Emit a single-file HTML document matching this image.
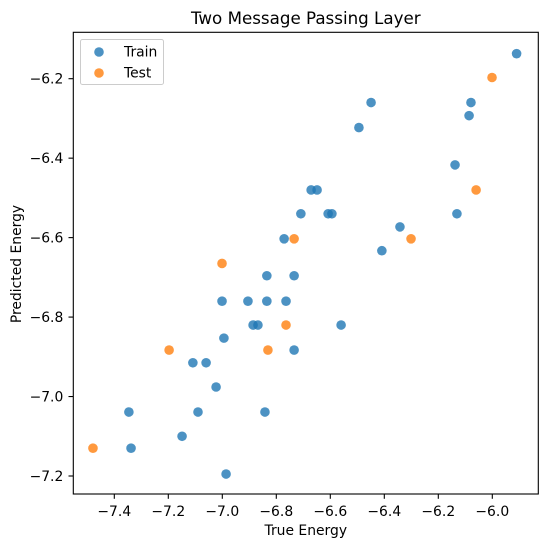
<!DOCTYPE html>
<html><head><meta charset="utf-8"><style>body{margin:0;background:#fff}svg{display:block;font-family:"DejaVu Sans","Liberation Sans",sans-serif}</style></head>
<body>
<svg id="chart" width="548" height="547"></svg>
<script>
const trainX=[-5.91,-6.449,-6.494,-6.079,-6.086,-6.138,-6.131,-6.342,-6.409,-6.671,-6.649,-6.709,-6.608,-6.594,-6.771,-6.835,-6.734,-7.001,-6.905,-6.835,-6.764,-6.886,-6.868,-6.56,-6.734,-6.994,-7.109,-7.06,-7.023,-7.346,-7.09,-6.842,-7.149,-7.338,-6.986];
const trainY=[-6.137,-6.26,-6.323,-6.26,-6.293,-6.417,-6.54,-6.573,-6.633,-6.48,-6.48,-6.54,-6.54,-6.54,-6.603,-6.696,-6.696,-6.76,-6.76,-6.76,-6.76,-6.82,-6.82,-6.82,-6.883,-6.853,-6.915,-6.915,-6.976,-7.039,-7.039,-7.039,-7.1,-7.13,-7.195];
const testX=[-7.479,-7.197,-7.001,-6.734,-6.764,-6.831,-6.301,-6.06,-6.001];
const testY=[-7.13,-6.883,-6.665,-6.603,-6.82,-6.883,-6.603,-6.48,-6.197];
const xTicks=[-7.4,-7.2,-7.0,-6.8,-6.6,-6.4,-6.2,-6.0];
const yTicks=[-6.2,-6.4,-6.6,-6.8,-7.0,-7.2];
const L=73.3,R=538.3,T=32.3,B=494;
const xs=v=>114.3+(v+7.4)*270;
const ys=v=>78.7+(-6.2-v)*397.3;
const svg=document.getElementById('chart');
const NS='http://www.w3.org/2000/svg';
function mk(tag,attrs,parent){const e=document.createElementNS(NS,tag);for(const k in attrs)e.setAttribute(k,attrs[k]);(parent||svg).appendChild(e);return e;}
let t=mk('text',{x:(L+R)/2,y:24,'text-anchor':'middle','font-size':16.7});t.textContent='Two Message Passing Layer';


xTicks.forEach(v=>{const x=xs(v);mk('line',{x1:x,x2:x,y1:B,y2:B+4.8,stroke:'#000','stroke-width':1.1});const tx=mk('text',{x:x,y:B+22,'text-anchor':'middle','font-size':13.9});tx.textContent=v.toFixed(1).replace('-','\u2212');

});
yTicks.forEach(v=>{const y=ys(v);mk('line',{x1:L-4.8,x2:L,y1:y,y2:y,stroke:'#000','stroke-width':1.1});const ty=mk('text',{x:L-10,y:y+5,'text-anchor':'end','font-size':13.9});ty.textContent=v.toFixed(1).replace('-','\u2212');

});
let xl=mk('text',{x:(L+R)/2,y:535,'text-anchor':'middle','font-size':13.9});xl.textContent='True Energy';


let yl=mk('text',{x:21,y:264,'text-anchor':'middle','font-size':13.9,transform:'rotate(-90 21 264)'});yl.textContent='Predicted Energy';


trainX.forEach((v,i)=>{const c=mk('circle',{cx:xs(v),cy:ys(trainY[i]),r:4.8,fill:'#1f77b4','fill-opacity':0.8});

});
testX.forEach((v,i)=>{const c=mk('circle',{cx:xs(v),cy:ys(testY[i]),r:4.8,fill:'#ff7f0e','fill-opacity':0.8});

});
mk('rect',{x:L,y:T,width:R-L,height:B-T,fill:'none',stroke:'#000','stroke-width':1.1});
const lg=mk('g',{});


mk('rect',{x:80.5,y:39.5,width:83,height:45,rx:2,fill:'#fff','fill-opacity':0.8,stroke:'#ccc'},lg);
mk('circle',{cx:99,cy:52,r:4.8,fill:'#1f77b4','fill-opacity':0.8},lg);
let a=mk('text',{x:124,y:56.5,'font-size':13.9},lg);a.textContent='Train';
mk('circle',{cx:99,cy:73,r:4.8,fill:'#ff7f0e','fill-opacity':0.8},lg);
let b=mk('text',{x:124,y:77.5,'font-size':13.9},lg);b.textContent='Test';
</script>
</body></html>
